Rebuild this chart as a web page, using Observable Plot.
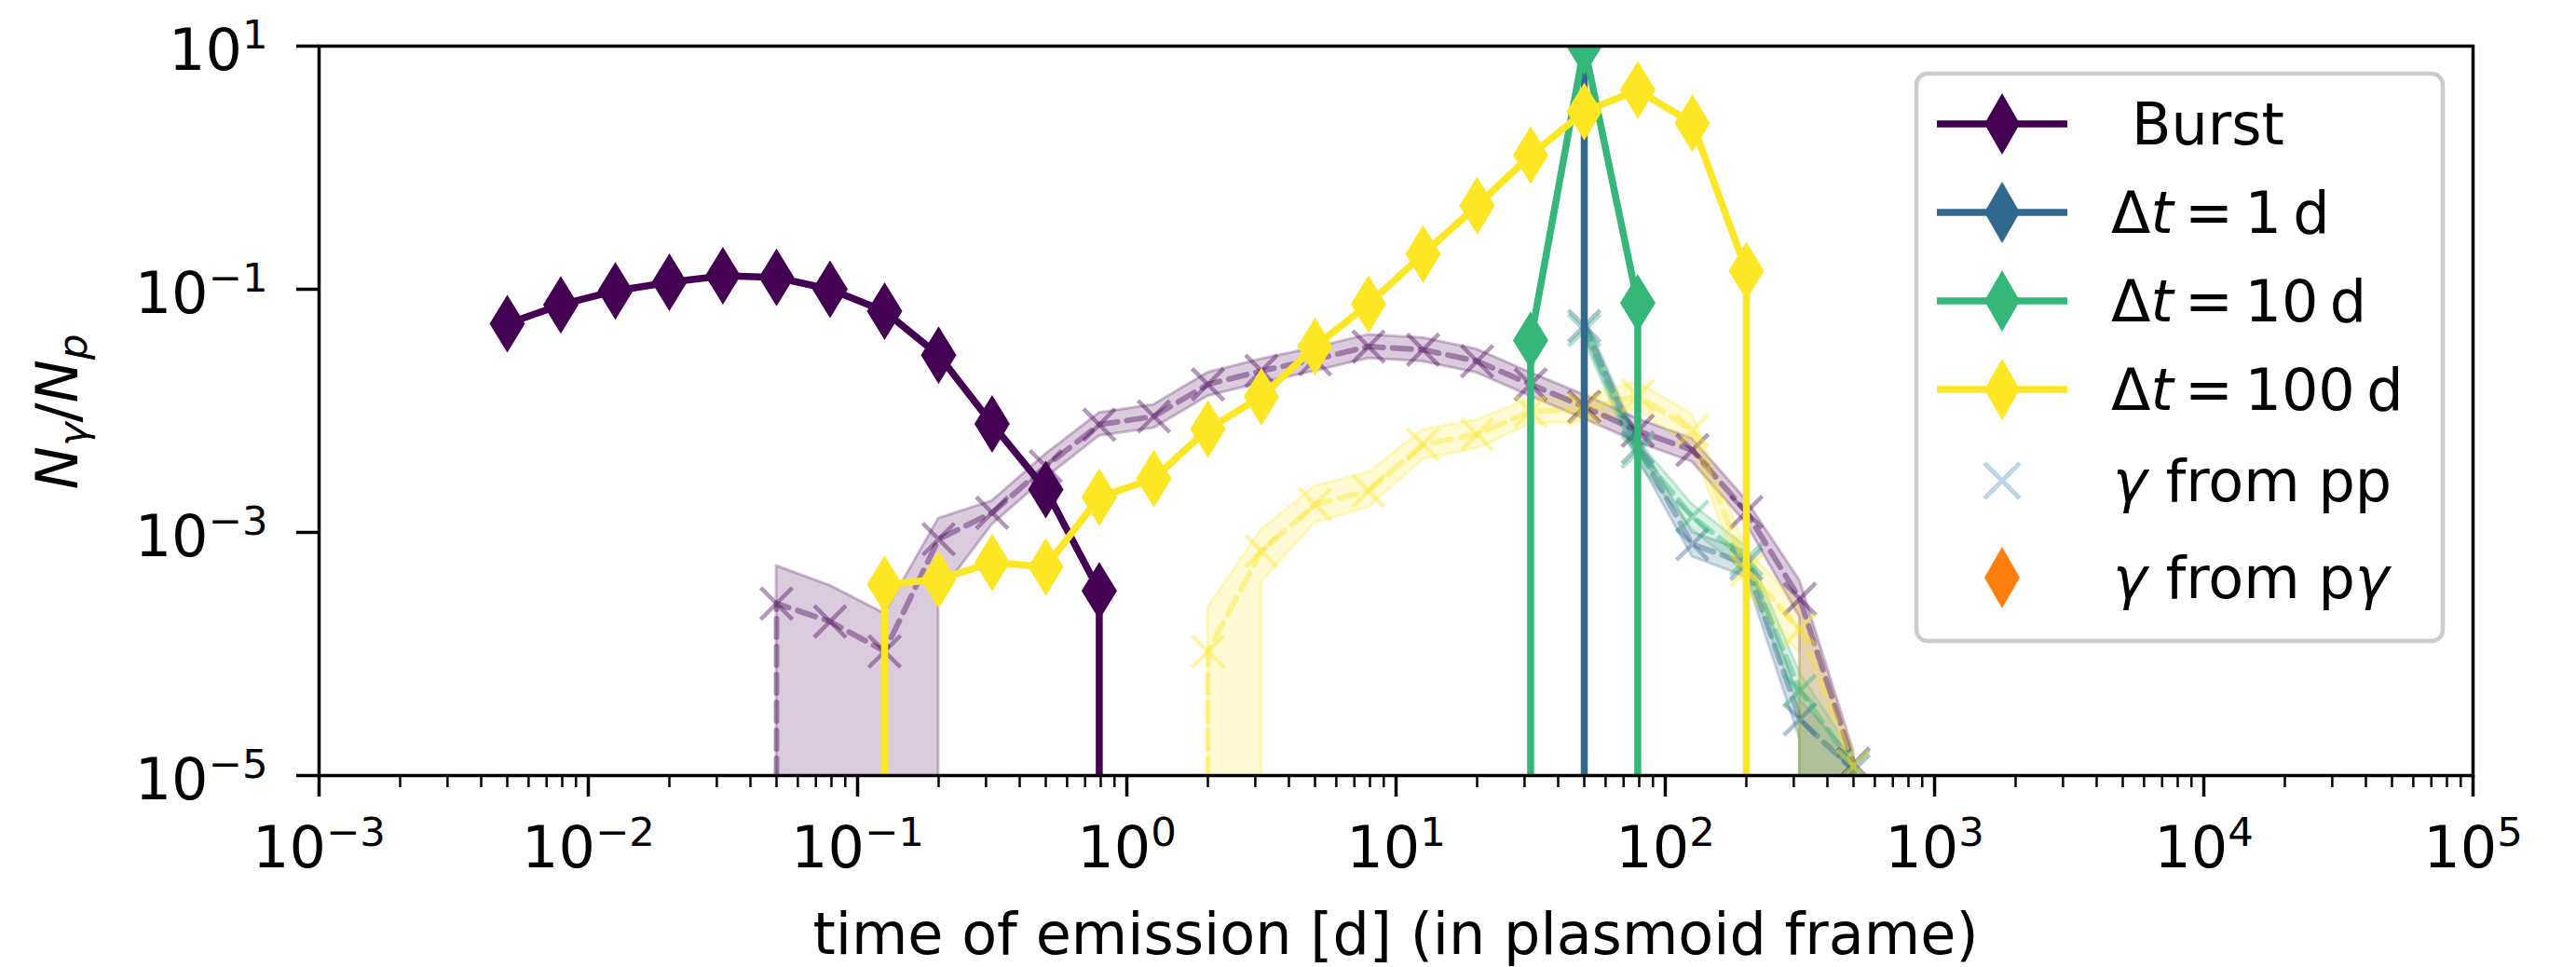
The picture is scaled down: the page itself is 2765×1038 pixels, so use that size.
<!DOCTYPE html>
<html><head><meta charset="utf-8">
<script src="https://cdn.jsdelivr.net/npm/d3@7"></script>
<script src="https://cdn.jsdelivr.net/npm/@observablehq/plot@0.6"></script>
<style>
html,body{margin:0;padding:0;background:#fff;}
#chart svg{display:block;}
</style>
</head><body><div id="chart"></div>
<script>
// ---------------- data ----------------
const seriesNames = ["Burst", "Δt = 1 d", "Δt = 10 d", "Δt = 100 d"];
const seriesColors = ["#440154", "#31688e", "#35b779", "#fde725"];

// total photons per proton (solid lines with diamonds); 0 = no emission
const burstT = [0.005, 0.0079, 0.0126, 0.02, 0.0316, 0.05, 0.079, 0.126, 0.2, 0.316, 0.5, 0.79, 1.26];
const burstY = [0.052, 0.0745, 0.097, 0.114, 0.129, 0.125, 0.100, 0.066, 0.0287, 0.0078, 0.00225, 0.00033, 0];
const dt1T = [31.6, 50, 79];
const dt1Y = [0, 10, 0];
const dt10T = [20, 31.6, 50, 79, 126];
const dt10Y = [0, 0.038, 10, 0.077, 0];
const dt100T = [0.079, 0.126, 0.2, 0.316, 0.5, 0.79, 1.26, 2.0, 3.16, 5.0, 7.9, 12.6, 20, 31.6, 50, 79, 126, 200, 316];
const dt100Y = [0, 3.74e-4, 4.1e-4, 5.65e-4, 5.2e-4, 1.95e-3, 2.77e-3, 7.1e-3, 0.0131, 0.0338, 0.0755, 0.195, 0.487, 1.27, 2.89, 4.36, 2.32, 0.142, 0];

// gamma from pp (dashed lines with x markers, shaded range)
const ppBurstT = [0.0316, 0.05, 0.079, 0.126, 0.2, 0.316, 0.5, 0.79, 1.26, 2.0, 3.16, 5.0, 7.9, 12.6, 20, 31.6, 50, 79, 126, 200, 316, 500, 790];
const ppBurstY = [0, 2.6e-4, 1.85e-4, 1.05e-4, 8.8e-4, 1.45e-3, 3.5e-3, 7.7e-3, 9.0e-3, 0.0165, 0.0213, 0.0265, 0.0338, 0.0318, 0.0256, 0.0165, 0.0108, 6.85e-3, 4.75e-3, 1.47e-3, 2.84e-4, 1.25e-5, 0];
const ppBurstLo = [0, 0, 0, 0, 3.0e-4, 1.16e-3, 2.8e-3, 6.2e-3, 7.2e-3, 0.0132, 0.0170, 0.0212, 0.0270, 0.0254, 0.0205, 0.0132, 0.0086, 5.5e-3, 3.8e-3, 1.18e-3, 2.0e-4, 0, 0];
const ppBurstHi = [0, 5.3e-4, 3.65e-4, 2.15e-4, 1.3e-3, 1.81e-3, 4.4e-3, 9.6e-3, 0.0112, 0.0206, 0.0266, 0.0331, 0.0422, 0.0398, 0.0320, 0.0206, 0.0135, 8.6e-3, 5.9e-3, 1.84e-3, 4.0e-4, 1.6e-5, 0];

const ppDt1T = [31.6, 50, 79, 126, 200, 316, 500, 790];
const ppDt1Y = [0, 0.050, 5.0e-3, 8.0e-4, 5.5e-4, 2.9e-5, 1.1e-5, 0];
const ppDt1Lo = [0, 0.042, 4.1e-3, 6.3e-4, 4.3e-4, 2.0e-5, 0, 0];
const ppDt1Hi = [0, 0.060, 6.0e-3, 1.0e-3, 7.0e-4, 4.2e-5, 1.4e-5, 0];

const ppDt10T = [31.6, 50, 79, 126, 200, 316, 500, 790];
const ppDt10Y = [0, 0.046, 4.6e-3, 1.35e-3, 6.0e-4, 5.0e-5, 1.2e-5, 0];
const ppDt10Lo = [0, 0.038, 3.7e-3, 1.05e-3, 4.6e-4, 3.5e-5, 0, 0];
const ppDt10Hi = [0, 0.056, 5.7e-3, 1.7e-3, 7.6e-4, 7.0e-5, 1.5e-5, 0];

const ppDt100T = [1.26, 2.0, 3.16, 5.0, 7.9, 12.6, 20, 31.6, 50, 79, 126, 200, 316, 500, 790];
const ppDt100Y = [0, 1.05e-4, 7.0e-4, 1.7e-3, 2.2e-3, 5.3e-3, 6.4e-3, 9.9e-3, 0.0103, 0.0133, 6.9e-3, 4.9e-4, 1.6e-4, 1.2e-5, 0];
const ppDt100Lo = [0, 0, 3.9e-4, 1.2e-3, 1.6e-3, 4.0e-3, 4.9e-3, 7.8e-3, 8.1e-3, 0.0102, 5.0e-3, 3.3e-4, 1.0e-4, 0, 0];
const ppDt100Hi = [0, 2.4e-4, 1.05e-3, 2.4e-3, 3.1e-3, 7.0e-3, 8.4e-3, 0.0126, 0.0131, 0.0172, 9.3e-3, 7.2e-4, 2.5e-4, 1.6e-5, 0];

// axis ticks
const xMajorTicks = [1e-3, 1e-2, 1e-1, 1e0, 1e1, 1e2, 1e3, 1e4, 1e5];
const yMajorTicks = [1e-5, 1e-3, 1e-1, 1e1];
const xLabel = "time of emission [d] (in plasmoid frame)";

// ---------------- helpers ----------------
const FLOOR = 1e-8; // stands for zero on the log axis (drawn clipped, like matplotlib)

function linePoints(xs, ys) {
  const out = [];
  for (let i = 0; i < xs.length; i++) {
    if (ys[i] > 0) out.push({x: xs[i], y: ys[i]});
    else {
      if (i > 0 && ys[i - 1] > 0) out.push({x: xs[i - 1], y: FLOOR});
      if (i < xs.length - 1 && ys[i + 1] > 0) out.push({x: xs[i + 1], y: FLOOR});
    }
  }
  return out;
}
function markerPoints(xs, ys) {
  return xs.map((x, i) => ({x, y: ys[i]})).filter(d => d.y > 0);
}
function bandPoints(xs, lo, hi) {
  const out = [], n = xs.length;
  for (let i = 0; i < n; i++) {
    if (!(hi[i] > 0)) continue;
    const l = lo[i] > 0 ? lo[i] : FLOOR;
    if (lo[i] > 0 && i > 0 && hi[i - 1] > 0 && !(lo[i - 1] > 0)) out.push({x: xs[i], lo: FLOOR, hi: hi[i]});
    out.push({x: xs[i], lo: l, hi: hi[i]});
    if (lo[i] > 0 && i < n - 1 && hi[i + 1] > 0 && !(lo[i + 1] > 0)) out.push({x: xs[i], lo: FLOOR, hi: hi[i]});
  }
  return out;
}
const xMinorTicks = [];
for (let k = -3; k < 5; k++) for (let m = 2; m <= 9; m++) xMinorTicks.push(m * Math.pow(10, k));

const thinDiamond = {draw(ctx) { ctx.moveTo(0, -31); ctx.lineTo(19, 0); ctx.lineTo(0, 31); ctx.lineTo(-19, 0); ctx.closePath(); }};
const crossSym = {draw(ctx) { const s = 17; ctx.moveTo(-s, -s); ctx.lineTo(s, s); ctx.moveTo(-s, s); ctx.lineTo(s, -s); }};

const solid = [
  [burstT, burstY], [dt1T, dt1Y], [dt10T, dt10Y], [dt100T, dt100Y]
];
const pp = [
  [ppBurstT, ppBurstY, ppBurstLo, ppBurstHi],
  [ppDt1T, ppDt1Y, ppDt1Lo, ppDt1Hi],
  [ppDt10T, ppDt10Y, ppDt10Lo, ppDt10Hi],
  [ppDt100T, ppDt100Y, ppDt100Lo, ppDt100Hi]
];

const fmt = d => "10^" + Math.round(Math.log10(d));

const marks = [];
// shaded ranges
pp.forEach(([t, y, lo, hi], k) => {
  marks.push(Plot.areaY(bandPoints(t, lo, hi), {x: "x", y1: "lo", y2: "hi", fill: seriesColors[k], fillOpacity: 0.2,
    stroke: seriesColors[k], strokeOpacity: 0.25, strokeWidth: 3, clip: true}));
});
// dashed pp lines + crosses
pp.forEach(([t, y], k) => {
  marks.push(Plot.line(linePoints(t, y), {x: "x", y: "y", stroke: seriesColors[k], strokeOpacity: 0.4,
    strokeWidth: 6, strokeDasharray: "20,10", clip: true}));
  marks.push(Plot.dot(markerPoints(t, y), {x: "x", y: "y", symbol: crossSym, stroke: seriesColors[k],
    strokeOpacity: 0.4, strokeWidth: 4.5, fill: "none", clip: true}));
});
// solid lines + diamonds
solid.forEach(([t, y], k) => {
  marks.push(Plot.line(linePoints(t, y), {x: "x", y: "y", stroke: seriesColors[k], strokeWidth: 7.5, clip: true}));
  marks.push(Plot.dot(markerPoints(t, y), {x: "x", y: "y", symbol: thinDiamond, fill: seriesColors[k], stroke: "none", clip: true}));
});
// frame & ticks
marks.push(Plot.frame({stroke: "black", strokeWidth: 3.5}));
marks.push(Plot.axisX(xMajorTicks, {tickSize: 23, strokeWidth: 3.5, stroke: "black", fill: "none", label: null, tickFormat: () => ""}));
marks.push(Plot.axisX(xMinorTicks, {tickSize: 13, strokeWidth: 2.5, stroke: "black", fill: "none", label: null, tickFormat: () => ""}));
marks.push(Plot.axisY(yMajorTicks, {tickSize: 24, strokeWidth: 3.5, stroke: "black", fill: "none", label: null, tickFormat: () => ""}));
// tick labels
marks.push(Plot.text(xMajorTicks, {x: d => d, frameAnchor: "bottom", text: fmt, fontSize: 62, lineAnchor: "bottom", dy: 98, textAnchor: "middle", fill: "black"}));
marks.push(Plot.text(yMajorTicks, {y: d => d, frameAnchor: "left", text: fmt, fontSize: 62, lineAnchor: "bottom", dy: 25, dx: -55, textAnchor: "end", fill: "black"}));

const chart = Plot.plot({
  width: 2765, height: 1038,
  marginLeft: 342, marginRight: 111, marginTop: 49, marginBottom: 206,
  style: {fontFamily: "DejaVu Sans", background: "white", color: "black", overflow: "visible"},
  x: {type: "log", domain: [1e-3, 1e5], axis: null},
  y: {type: "log", domain: [1e-5, 10], axis: null},
  marks
});

// superscript exponents for tick labels
const NS = "http://www.w3.org/2000/svg";
chart.querySelectorAll("text").forEach(t => {
  const m = /^10\^(-?\d+)$/.exec(t.textContent);
  if (!m) return;
  t.textContent = "10";
  const s = document.createElementNS(NS, "tspan");
  s.setAttribute("dy", "-23");
  s.setAttribute("font-size", "43.4");
  s.textContent = m[1].replace("-", "\u2212");
  t.appendChild(s);
});

const svg = d3.select(chart);
const font = "DejaVu Sans";

// x-axis label
svg.append("text").attr("x", (342 + 2654) / 2).attr("y", 1024).attr("text-anchor", "middle")
  .attr("font-family", font).attr("font-size", 62).attr("fill", "black").text(xLabel);

// y-axis label  N_γ / N_p
{
  const t = svg.append("text").attr("transform", "translate(83,442) rotate(-90)").attr("text-anchor", "middle")
    .attr("font-family", font).attr("font-size", 62).attr("fill", "black");
  t.append("tspan").attr("font-style", "italic").text("N");
  t.append("tspan").attr("font-style", "italic").attr("font-size", 43.4).attr("dy", 10).text("γ");
  t.append("tspan").attr("dy", -10).text("/");
  t.append("tspan").attr("font-style", "italic").text("N");
  t.append("tspan").attr("font-style", "italic").attr("font-size", 43.4).attr("dy", 10).text("p");
}

// legend
{
  const g = svg.append("g").attr("font-family", font).attr("font-size", 62).attr("fill", "black").attr("text-anchor", "start");
  g.append("rect").attr("x", 2057).attr("y", 79).attr("width", 565).attr("height", 609).attr("rx", 12)
    .attr("fill", "white").attr("fill-opacity", 0.8).attr("stroke", "#cccccc").attr("stroke-width", 4.5);
  const ys = [133, 228, 323, 418, 516, 620];
  const hx = 2149;
  const diamond = (cx, cy, color) => g.append("path")
    .attr("d", `M${cx},${cy - 33}L${cx + 19},${cy}L${cx},${cy + 33}L${cx - 19},${cy}Z`).attr("fill", color);
  seriesColors.forEach((c, k) => {
    g.append("line").attr("x1", 2079).attr("x2", 2219).attr("y1", ys[k]).attr("y2", ys[k])
      .attr("stroke", c).attr("stroke-width", 7.5);
    diamond(hx, ys[k], c);
  });
  // pp cross
  g.append("path").attr("d", `M${hx - 19},${ys[4] - 19}L${hx + 19},${ys[4] + 19}M${hx - 19},${ys[4] + 19}L${hx + 19},${ys[4] - 19}`)
    .attr("stroke", "#1f77b4").attr("stroke-opacity", 0.3).attr("stroke-width", 5).attr("fill", "none");
  diamond(hx, ys[5], "#ff7f0e");

  const bl = 22;
  g.append("text").attr("x", 2288).attr("y", ys[0] + bl).text(seriesNames[0]);
  ["1", "10", "100"].forEach((v, i) => {
    const t = g.append("text").attr("x", 2266).attr("y", ys[i + 1] + bl);
    t.append("tspan").text("Δ");
    t.append("tspan").attr("font-style", "italic").text("t");
    t.append("tspan").text("\u2009=\u2009" + v + "\u2009d");
  });
  {
    const t = g.append("text").attr("x", 2268).attr("y", ys[4] + bl);
    t.append("tspan").attr("font-style", "italic").text("γ");
    t.append("tspan").text(" from pp");
  }
  {
    const t = g.append("text").attr("x", 2268).attr("y", ys[5] + bl);
    t.append("tspan").attr("font-style", "italic").text("γ");
    t.append("tspan").text(" from p");
    t.append("tspan").attr("font-style", "italic").text("γ");
  }
}

document.getElementById("chart").appendChild(chart);
</script>
</body></html>
